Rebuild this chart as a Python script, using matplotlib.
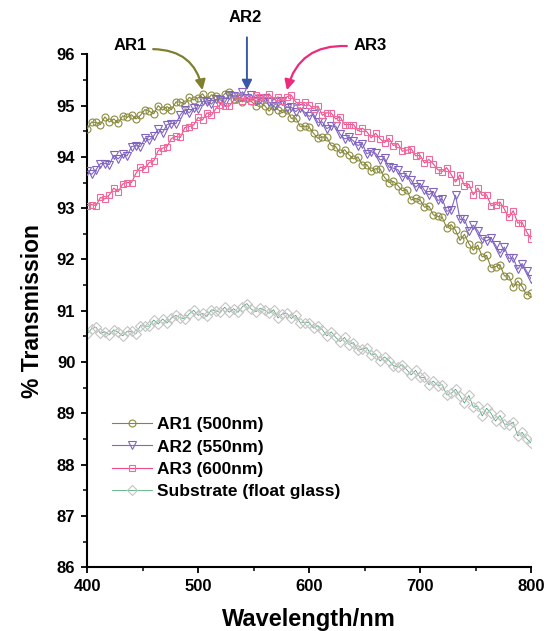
import numpy as np
import matplotlib
matplotlib.use('Agg')
import matplotlib.pyplot as plt
from matplotlib.ticker import MultipleLocator

plt.rcParams['font.family'] = ['Liberation Sans', 'DejaVu Sans']
plt.rcParams['font.weight'] = 'bold'

# wavelength grid, 4 nm steps
wavelength = np.arange(400, 801, 4)

ar1 = [94.55, 94.68, 94.67, 94.63, 94.78, 94.68, 94.74, 94.66, 94.80, 94.77,
       94.82, 94.74, 94.81, 94.92, 94.89, 94.84, 95.00, 94.91, 94.98, 94.92,
       95.07, 95.07, 95.03, 95.16, 95.11, 95.15, 95.23, 95.11, 95.21, 95.18,
       95.13, 95.23, 95.26, 95.13, 95.15, 95.07, 95.15, 95.08, 95.00, 95.05,
       95.00, 94.89, 94.99, 94.92, 94.86, 94.92, 94.75, 94.76, 94.59, 94.60,
       94.58, 94.46, 94.36, 94.39, 94.38, 94.22, 94.20, 94.07, 94.14, 94.04,
       93.96, 94.00, 93.84, 93.85, 93.72, 93.77, 93.76, 93.60, 93.50, 93.52,
       93.44, 93.34, 93.36, 93.16, 93.19, 93.16, 93.02, 93.04, 92.87, 92.84,
       92.82, 92.62, 92.68, 92.57, 92.37, 92.49, 92.31, 92.18, 92.28, 92.05,
       92.08, 91.84, 91.86, 91.90, 91.68, 91.68, 91.46, 91.58, 91.47, 91.31,
       91.34]

ar2 = [93.72, 93.66, 93.75, 93.87, 93.87, 93.85, 94.03, 93.96, 94.05, 94.02,
       94.20, 94.22, 94.20, 94.36, 94.33, 94.41, 94.54, 94.47, 94.63, 94.65,
       94.65, 94.82, 94.92, 94.86, 94.95, 94.93, 95.08, 95.07, 95.03, 95.12,
       95.11, 95.06, 95.21, 95.19, 95.17, 95.27, 95.15, 95.21, 95.08, 95.13,
       95.15, 95.06, 95.00, 95.06, 95.09, 94.96, 94.97, 94.88, 94.96, 94.87,
       94.79, 94.83, 94.67, 94.68, 94.55, 94.60, 94.60, 94.44, 94.35, 94.38,
       94.31, 94.22, 94.26, 94.06, 94.10, 94.07, 93.94, 93.97, 93.80, 93.78,
       93.75, 93.61, 93.64, 93.55, 93.41, 93.48, 93.35, 93.26, 93.32, 93.15,
       93.18, 92.94, 92.96, 93.25, 92.78, 92.78, 92.56, 92.67, 92.56, 92.40,
       92.36, 92.42, 92.28, 92.12, 92.24, 92.02, 92.03, 91.81, 91.92, 91.77,
       91.62]

ar3 = [93.05, 93.07, 93.05, 93.21, 93.18, 93.26, 93.39, 93.32, 93.47, 93.50,
       93.50, 93.68, 93.80, 93.77, 93.89, 93.92, 94.12, 94.17, 94.20, 94.36,
       94.40, 94.38, 94.57, 94.59, 94.62, 94.77, 94.72, 94.86, 94.81, 94.94,
       95.02, 94.99, 94.99, 95.10, 95.18, 95.09, 95.14, 95.08, 95.21, 95.17,
       95.14, 95.23, 95.11, 95.17, 95.08, 95.17, 95.20, 95.07, 95.01, 95.06,
       95.01, 94.94, 94.99, 94.81, 94.86, 94.85, 94.74, 94.78, 94.63, 94.63,
       94.63, 94.51, 94.56, 94.49, 94.37, 94.46, 94.35, 94.28, 94.36, 94.22,
       94.26, 94.11, 94.13, 94.16, 94.02, 94.03, 93.88, 93.95, 93.86, 93.75,
       93.71, 93.79, 93.66, 93.51, 93.65, 93.44, 93.47, 93.26, 93.39, 93.25,
       93.26, 93.05, 93.07, 93.12, 92.98, 92.82, 92.95, 92.71, 92.72, 92.54,
       92.40]

substrate = [90.55, 90.65, 90.68, 90.56, 90.59, 90.53, 90.63, 90.58, 90.51, 90.60,
             90.60, 90.55, 90.71, 90.70, 90.70, 90.82, 90.74, 90.84, 90.76, 90.86,
             90.91, 90.86, 90.84, 90.94, 91.01, 90.91, 90.95, 90.89, 91.02, 90.99,
             90.97, 91.07, 90.97, 91.04, 90.97, 91.08, 91.14, 91.03, 90.98, 91.05,
             91.01, 90.95, 91.02, 90.86, 90.94, 90.95, 90.85, 90.91, 90.77, 90.77,
             90.77, 90.66, 90.71, 90.63, 90.51, 90.59, 90.48, 90.40, 90.48, 90.34,
             90.38, 90.23, 90.25, 90.28, 90.14, 90.16, 90.02, 90.10, 90.03, 89.93,
             89.90, 89.95, 89.85, 89.75, 89.84, 89.70, 89.70, 89.56, 89.63, 89.54,
             89.56, 89.36, 89.39, 89.47, 89.34, 89.20, 89.35, 89.12, 89.14, 88.95,
             89.10, 89.00, 88.85, 88.96, 88.79, 88.77, 88.83, 88.56, 88.63, 88.51,
             88.42]

labels = ['AR1 (500nm)', 'AR2 (550nm)', 'AR3 (600nm)', 'Substrate (float glass)']

fig = plt.figure(figsize=(5.48, 6.31), dpi=100)
ax = fig.add_axes([0.159, 0.101, 0.810, 0.813])

ms = 5
ax.plot(wavelength, substrate, color='#2e9e5e', lw=0.5, marker='D', ms=4.6,
        mfc='none', mec='#c4c4c4', mew=0.8, label=labels[3], zorder=2)
ax.plot(wavelength, ar1, color='#85853a', lw=0.8, marker='o', ms=ms,
        mfc='none', mec='#8c8c40', mew=0.8, label=labels[0], zorder=3)
ax.plot(wavelength, ar2, color='#8068c4', lw=0.8, marker='v', ms=ms + 0.5,
        mfc='none', mec='#8064c0', mew=0.8, label=labels[1], zorder=4)
ax.plot(wavelength, ar3, color='#ee4a88', lw=0.8, marker='s', ms=ms - 0.3,
        mfc='none', mec='#f26a9c', mew=0.8, label=labels[2], zorder=5)

ax.set_xlim(400, 800)
ax.set_ylim(86, 96)
ax.xaxis.set_major_locator(MultipleLocator(100))
ax.xaxis.set_minor_locator(MultipleLocator(50))
ax.yaxis.set_major_locator(MultipleLocator(1))
ax.yaxis.set_minor_locator(MultipleLocator(0.5))
ax.tick_params(which='major', direction='out', length=4.5, width=1.3, labelsize=12, pad=4)
ax.tick_params(which='minor', direction='out', length=3, width=1.1)
for s in ['top', 'right']:
    ax.spines[s].set_visible(False)
for s in ['left', 'bottom']:
    ax.spines[s].set_linewidth(1.5)

ax.set_xlabel('Wavelength/nm', fontsize=17, fontweight='bold', labelpad=10)
ax.set_ylabel('% Transmission', fontsize=16.5, fontweight='bold', labelpad=9)

# legend: AR1..AR3 first, substrate last
h, l = ax.get_legend_handles_labels()
order = [1, 2, 3, 0]
leg = ax.legend([h[i] for i in order], [l[i] for i in order], loc='upper left',
                bbox_to_anchor=(0.056, 0.293), borderaxespad=0, borderpad=0,
                frameon=False, numpoints=1, handlelength=2.3, handletextpad=0.3,
                labelspacing=0.42, prop={'size': 12.5, 'weight': 'bold'})

# peak markers
ax.text(439, 96.18, 'AR1', fontsize=12, fontweight='bold', ha='center', va='center', clip_on=False)
ax.text(542, 96.72, 'AR2', fontsize=12, fontweight='bold', ha='center', va='center', clip_on=False)
ax.text(655, 96.18, 'AR3', fontsize=12, fontweight='bold', ha='center', va='center', clip_on=False)
ax.annotate('', xy=(504, 95.3), xytext=(459.5, 96.1), annotation_clip=False,
            arrowprops=dict(arrowstyle='-|>,head_length=0.6,head_width=0.3', color='#7f7f30',
                            lw=1.6, connectionstyle='arc3,rad=-0.4', shrinkA=0, shrinkB=0))
ax.annotate('', xy=(544, 95.3), xytext=(544, 96.33), annotation_clip=False,
            arrowprops=dict(arrowstyle='-|>,head_length=0.6,head_width=0.3', color='#3a58a8',
                            lw=1.4, shrinkA=0, shrinkB=0))
ax.annotate('', xy=(580, 95.3), xytext=(634, 96.16), annotation_clip=False,
            arrowprops=dict(arrowstyle='-|>,head_length=0.6,head_width=0.3', color='#ee2a7b',
                            lw=1.6, connectionstyle='arc3,rad=0.4', shrinkA=0, shrinkB=0))

fig.savefig('out.png', dpi=100)
